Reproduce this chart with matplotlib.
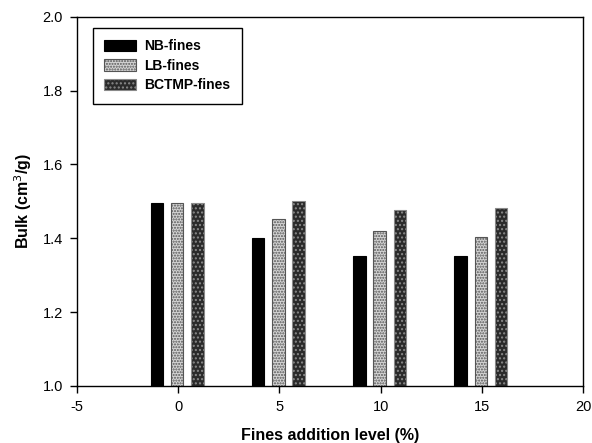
import numpy as np
import matplotlib.pyplot as plt

plt.rcParams['font.family'] = ['Liberation Sans', 'DejaVu Sans']
plt.rcParams['axes.unicode_minus'] = False

levels = [0, 5, 10, 15]
nb_fines = [1.495, 1.40, 1.353, 1.353]
lb_fines = [1.495, 1.452, 1.42, 1.403]
bctmp_fines = [1.495, 1.502, 1.477, 1.482]

x = np.array(levels)
w = 0.62

fig = plt.figure(figsize=(5.92, 4.43), dpi=100)
ax = fig.add_axes([0.130, 0.129, 0.855, 0.833])

ax.bar(x - 1.05, np.array(nb_fines) - 1.0, w, bottom=1.0, color='black',
       edgecolor='black', lw=0.8, label='NB-fines')
ax.bar(x - 0.05, np.array(lb_fines) - 1.0, w, bottom=1.0, color='#d4d4d4',
       edgecolor='#555555', hatch='......', lw=0.8, label='LB-fines')
ax.bar(x + 0.95, np.array(bctmp_fines) - 1.0, w, bottom=1.0, color='#2a2a2a',
       edgecolor='#8a8a8a', hatch='....', lw=0.8, label='BCTMP-fines')

ax.set_xlim(-5, 20)
ax.set_ylim(1.0, 2.0)
ax.set_xticks([-5, 0, 5, 10, 15, 20])
ax.set_yticks([1.0, 1.2, 1.4, 1.6, 1.8, 2.0])
ax.set_yticklabels(['1.0', '1.2', '1.4', '1.6', '1.8', '2.0'])
ax.tick_params(direction='out', length=5, width=1, labelsize=10.5, pad=5)
for s in ax.spines.values():
    s.set_linewidth(1)

ax.set_xlabel('Fines addition level (%)', fontsize=11.5, fontweight='bold', labelpad=10)
ax.set_ylabel('Bulk (cm$^3$/g)', fontsize=11.5, fontweight='bold', labelpad=6)

leg = ax.legend(loc='upper left', bbox_to_anchor=(0.018, 0.988), fancybox=False,
                edgecolor='black', framealpha=1, prop={'weight': 'bold', 'size': 10},
                handlelength=2.3, handleheight=0.9, handletextpad=0.6,
                borderpad=0.8, labelspacing=0.4)
leg.get_frame().set_linewidth(1)

fig.savefig('out.png', dpi=100)
